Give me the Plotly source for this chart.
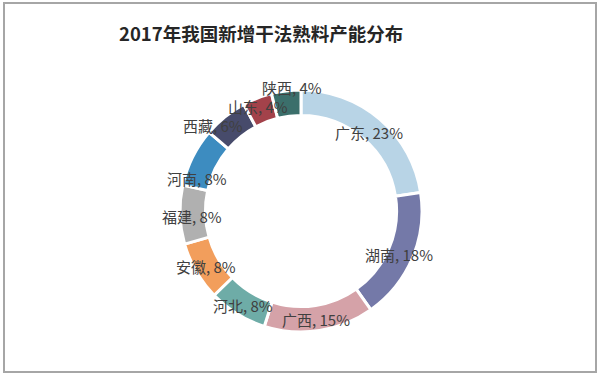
import math
import plotly.graph_objects as go

provinces = ["广东", "湖南", "广西", "河北", "安徽", "福建", "河南", "西藏", "山东", "陕西"]
shares = [23, 18, 15, 8, 8, 8, 8, 6, 4, 4]
colors = ["#b8d4e6", "#7479a8", "#d5a2a8", "#6eaca7", "#f29e5c",
          "#b0b0b0", "#3d8cc0", "#474b6b", "#a3424a", "#3b6f6b"]
label_radius = [104, 107, 110, 111, 110, 109, 109, 123, 113, 124]
label_angle_nudge = [0, 1, 1, 0, 0, -1, -9, -7, -1, 3]

W, H = 600, 376
cx, cy, R = 301, 211, 121

fig = go.Figure(go.Pie(
    labels=provinces,
    values=shares,
    sort=False,
    direction="clockwise",
    rotation=0,
    hole=0.79,
    marker=dict(colors=colors, line=dict(color="white", width=3)),
    textinfo="none",
    showlegend=False,
    domain=dict(x=[(cx - R) / W, (cx + R) / W], y=[1 - (cy + R) / H, 1 - (cy - R) / H]),
))

total = sum(shares)
cum = 0
annotations = []
for name, v, r, nudge in zip(provinces, shares, label_radius, label_angle_nudge):
    mid = (cum + v / 2) / total * 360 + nudge
    cum += v
    a = math.radians(mid)
    px = cx + r * math.sin(a)
    py = cy - r * math.cos(a)
    annotations.append(dict(
        x=px / W, y=1 - py / H, xref="paper", yref="paper",
        text=f"{name}, {v}%", showarrow=False,
        xanchor="center", yanchor="middle",
        font=dict(family="Noto Sans CJK SC", size=15, color="#404040"),
    ))

annotations.append(dict(
    x=261 / W, y=1 - 33 / H, xref="paper", yref="paper",
    text="<b>2017年我国新增干法熟料产能分布</b>", showarrow=False,
    xanchor="center", yanchor="middle",
    font=dict(family="Noto Sans CJK SC", size=18.5, color="#262626"),
))

fig.update_layout(
    width=W, height=H,
    margin=dict(l=0, r=0, t=0, b=0),
    paper_bgcolor="white",
    plot_bgcolor="white",
    annotations=annotations,
    shapes=[dict(type="rect", xref="paper", yref="paper",
                 x0=4 / W, x1=596 / W, y0=1 - 372 / H, y1=1 - 3 / H,
                 line=dict(color="#a6a6a6", width=2))],
)

fig.write_html("out.html", config={"displayModeBar": False},
               post_script="document.body.style.margin='0px';")
